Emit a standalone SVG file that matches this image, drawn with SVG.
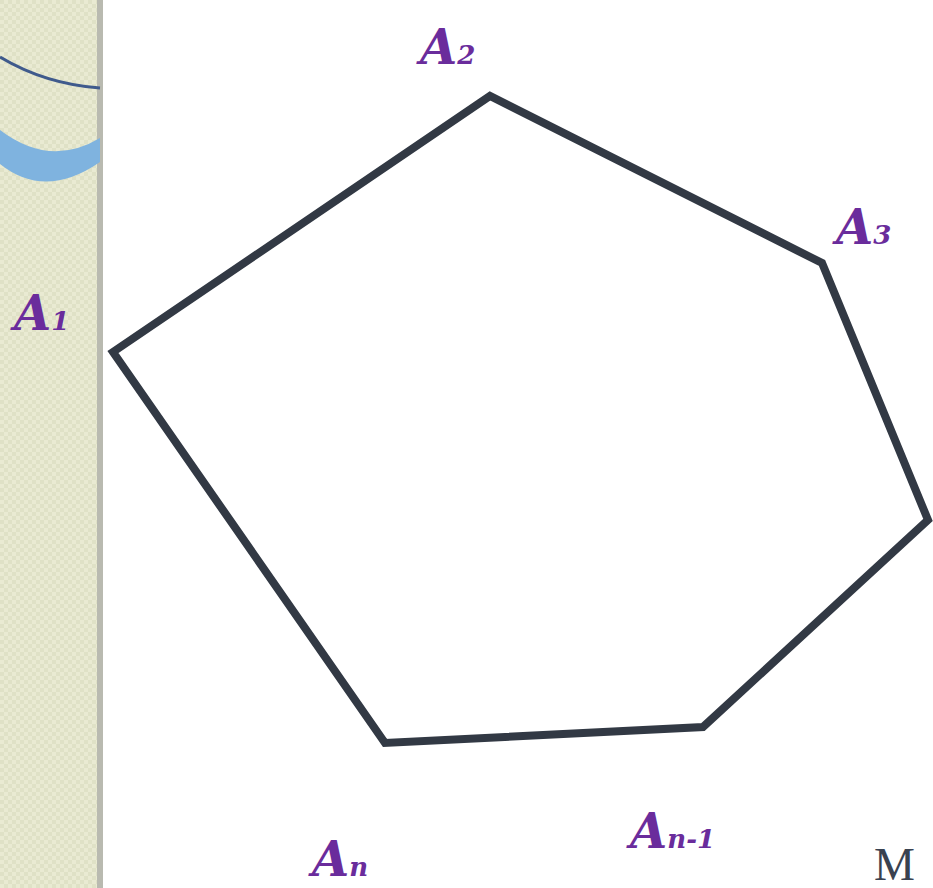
<svg xmlns="http://www.w3.org/2000/svg" width="933" height="888" viewBox="0 0 933 888">
<defs>
<pattern id="dots" width="8" height="8" patternUnits="userSpaceOnUse">
<rect width="8" height="8" fill="#e9ead2"/>
<rect width="4" height="4" fill="#dfe1c6"/>
<rect x="4" y="4" width="4" height="4" fill="#dfe1c6"/>
</pattern>
<style>
.lbl{font-family:"DejaVu Serif","Liberation Serif",serif;font-style:italic;font-weight:bold;fill:#6a2c9c}
.big{font-size:48px}
.sub{font-size:26px}
.edge{fill:none;stroke:#323944;stroke-width:8;stroke-linejoin:miter}
</style>
</defs>
<rect width="933" height="888" fill="#ffffff"/>
<g id="sidebar">
<rect x="0" y="0" width="99" height="888" fill="url(#dots)"/>
<rect x="97" y="0" width="6" height="888" fill="#b9bab0"/>
<path d="M0 57 Q45 84 100 88" fill="none" stroke="#3f5a8c" stroke-width="3"/>
<path d="M0 130 Q50 168 100 138 L100 162 Q45 200 0 164 Z" fill="#7fb3df"/>
</g>
<g id="polygon">
<polygon class="edge" points="113,352 490,96 822,263 928,520 703,727 385,743"/>
</g>
<g id="A1"><text class="lbl big" x="14" y="330">A<tspan class="sub">1</tspan></text></g>
<g id="A2"><text class="lbl big" x="420" y="64">A<tspan class="sub">2</tspan></text></g>
<g id="A3"><text class="lbl big" x="836" y="244">A<tspan class="sub">3</tspan></text></g>
<g id="An1"><text class="lbl big" x="630" y="848">A<tspan class="sub">n-1</tspan></text></g>
<g id="An"><text class="lbl big" x="312" y="876">A<tspan class="sub">n</tspan></text></g>
<g id="M"><text x="874" y="880" font-family="Liberation Serif,serif" font-size="46" fill="#3a4250">M</text></g>
</svg>
